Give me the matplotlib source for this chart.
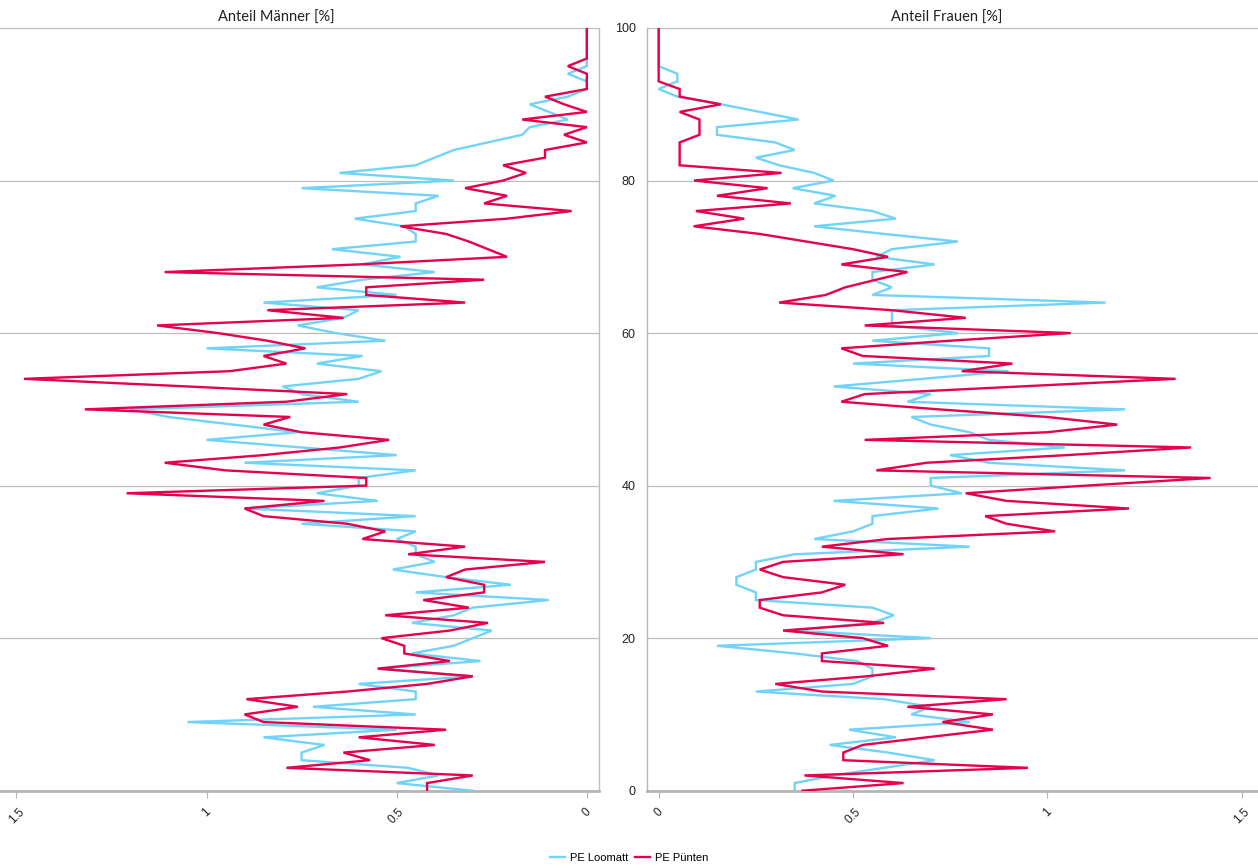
import matplotlib
matplotlib.use("Agg")
import matplotlib.pyplot as plt
import numpy as np

ages = list(range(0, 101))

maenner_loomatt = [0.30, 0.50, 0.39, 0.47, 0.75, 0.75, 0.69, 0.85, 0.50, 1.05,
                   0.45, 0.72, 0.45, 0.45, 0.60, 0.30, 0.55, 0.28, 0.46, 0.35,
                   0.30, 0.25, 0.46, 0.35, 0.30, 0.10, 0.45, 0.20, 0.37, 0.51,
                   0.40, 0.45, 0.45, 0.50, 0.45, 0.75, 0.45, 0.90, 0.55, 0.71,
                   0.60, 0.60, 0.45, 0.90, 0.50, 0.75, 1.00, 0.76, 0.93, 1.10,
                   1.20, 0.60, 0.75, 0.80, 0.60, 0.54, 0.71, 0.59, 1.00, 0.53,
                   0.66, 0.76, 0.64, 0.60, 0.85, 0.50, 0.71, 0.59, 0.40, 0.59,
                   0.49, 0.67, 0.45, 0.45, 0.48, 0.61, 0.45, 0.45, 0.39, 0.75,
                   0.35, 0.65, 0.45, 0.40, 0.35, 0.26, 0.17, 0.15, 0.05, 0.10,
                   0.15, 0.05, 0.00, 0.00, 0.05, 0.00, 0.00, 0.00, 0.00, 0.00,
                   0.00]

maenner_puenten = [0.42, 0.42, 0.30, 0.79, 0.57, 0.64, 0.40, 0.60, 0.37, 0.85,
                   0.90, 0.76, 0.895, 0.63, 0.42, 0.30, 0.55, 0.36, 0.48, 0.48,
                   0.54, 0.36, 0.26, 0.53, 0.31, 0.43, 0.27, 0.27, 0.37, 0.32,
                   0.11, 0.47, 0.32, 0.59, 0.53, 0.63, 0.85, 0.90, 0.69, 1.21,
                   0.58, 0.58, 0.95, 1.11, 0.85, 0.65, 0.52, 0.75, 0.85, 0.78,
                   1.32, 0.79, 0.63, 1.05, 1.48, 0.94, 0.79, 0.85, 0.74, 0.84,
                   0.97, 1.13, 0.64, 0.84, 0.32, 0.58, 0.58, 0.27, 1.11, 0.60,
                   0.21, 0.26, 0.31, 0.37, 0.49, 0.21, 0.04, 0.27, 0.21, 0.32,
                   0.22, 0.16, 0.22, 0.11, 0.11, 0.00, 0.06, 0.00, 0.17, 0.00,
                   0.06, 0.11, 0.00, 0.00, 0.00, 0.05, 0.00, 0.00, 0.00, 0.00,
                   0.00]

frauen_loomatt = [0.35, 0.35, 0.45, 0.58, 0.71, 0.59, 0.44, 0.61, 0.49, 0.80,
                  0.65, 0.70, 0.58, 0.25, 0.50, 0.55, 0.55, 0.51, 0.35, 0.15,
                  0.70, 0.34, 0.55, 0.605, 0.55, 0.25, 0.25, 0.20, 0.20, 0.25,
                  0.25, 0.35, 0.80, 0.40, 0.50, 0.55, 0.55, 0.72, 0.45, 0.78,
                  0.70, 0.70, 1.20, 0.85, 0.75, 1.045, 0.85, 0.80, 0.70, 0.65,
                  1.20, 0.64, 0.70, 0.45, 0.68, 0.90, 0.50, 0.85, 0.85, 0.55,
                  0.77, 0.60, 0.60, 0.60, 1.15, 0.55, 0.60, 0.55, 0.55, 0.71,
                  0.56, 0.60, 0.77, 0.58, 0.40, 0.61, 0.55, 0.40, 0.455, 0.345,
                  0.45, 0.40, 0.31, 0.25, 0.35, 0.30, 0.15, 0.15, 0.36, 0.26,
                  0.16, 0.048, 0.00, 0.048, 0.048, 0.00, 0.00, 0.00, 0.00, 0.00,
                  0.00]

frauen_puenten = [0.37, 0.63, 0.375, 0.95, 0.475, 0.475, 0.525, 0.69, 0.86, 0.73,
                  0.86, 0.64, 0.895, 0.42, 0.30, 0.535, 0.71, 0.42, 0.42, 0.59,
                  0.525, 0.32, 0.58, 0.32, 0.26, 0.26, 0.42, 0.48, 0.32, 0.26,
                  0.32, 0.63, 0.42, 0.59, 1.02, 0.895, 0.84, 1.21, 0.895, 0.79,
                  1.10, 1.42, 0.56, 0.69, 1.05, 1.37, 0.53, 1.00, 1.18, 1.00,
                  0.72, 0.47, 0.53, 0.93, 1.33, 0.78, 0.91, 0.525, 0.47, 0.75,
                  1.06, 0.53, 0.79, 0.60, 0.31, 0.43, 0.48, 0.56, 0.64, 0.47,
                  0.59, 0.50, 0.38, 0.26, 0.09, 0.22, 0.096, 0.34, 0.15, 0.28,
                  0.091, 0.316, 0.054, 0.054, 0.054, 0.054, 0.105, 0.105, 0.105, 0.054,
                  0.16, 0.054, 0.054, 0.00, 0.00, 0.00, 0.00, 0.00, 0.00, 0.00,
                  0.00]

x_ticks = [0, 0.5, 1, 1.5]
x_ticklabels = ["0", "0.5", "1", "1.5"]
y_ticks = [0, 20, 40, 60, 80, 100]
series_names = ["PE Loomatt", "PE Pünten"]
titles = ["Anteil Männer [%]", "Anteil Frauen [%]"]

c_blue = "#72D3F8"
c_red = "#E6004C"
grid_c = "#BDBDBD"
spine_c = "#B5B5B8"

W, H = 1258, 867
fig = plt.figure(figsize=(W / 100, H / 100), dpi=100)
top = 1 - 28 / H
bottom = 1 - 790.7 / H
axL = fig.add_axes([0.0, bottom, 599 / W, top - bottom])
axR = fig.add_axes([647.4 / W, bottom, 1 - 647.4 / W, top - bottom])

for ax, blue, red in [(axL, maenner_loomatt, maenner_puenten),
                      (axR, frauen_loomatt, frauen_puenten)]:
    ax.plot(blue, ages, color=c_blue, lw=1.7, solid_joinstyle="miter", label=series_names[0], zorder=3)
    ax.plot(red, ages, color=c_red, lw=1.7, solid_joinstyle="miter", label=series_names[1], zorder=4)
    ax.set_ylim(0, 100)
    ax.set_yticks(y_ticks)
    ax.yaxis.grid(True, color=grid_c, lw=0.9)
    ax.set_axisbelow(True)
    ax.set_xticks(x_ticks)
    ax.set_xticklabels(x_ticklabels, rotation=45, ha="center", va="top",
                       fontsize=8.5, family="Liberation Sans", color="#222222")
    ax.tick_params(axis="x", length=5, color=spine_c, pad=6)
    ax.spines["bottom"].set_color(spine_c)
    ax.spines["bottom"].set_linewidth(2)
    ax.spines["top"].set_visible(False)
    ax.set_facecolor("white")

fig.text(276 / W, 1 - 18 / H, titles[0], ha="center", va="center",
         fontsize=10.5, family="Lato", color="#222222")
fig.text(947 / W, 1 - 18 / H, titles[1], ha="center", va="center",
         fontsize=10.5, family="Lato", color="#222222")

axL.set_xlim(1.543, -0.032)
axL.spines["left"].set_visible(False)
axL.spines["right"].set_color(grid_c)
axL.spines["right"].set_linewidth(1)
axL.tick_params(axis="y", left=False, labelleft=False)

axR.set_xlim(-0.029, 1.542)
axR.spines["right"].set_visible(False)
axR.spines["left"].set_color(spine_c)
axR.spines["left"].set_linewidth(1)
axR.set_yticklabels([str(v) for v in y_ticks], fontsize=9, family="Liberation Sans", color="#222222")
axR.tick_params(axis="y", length=0, pad=8.5)

handles, labels = axL.get_legend_handles_labels()
fig.legend(handles, labels, loc="center", bbox_to_anchor=(629 / W, 1 - 858 / H), ncol=2,
           frameon=False, handlelength=1.4, handletextpad=0.4, columnspacing=0.6,
           prop={"family": "Liberation Sans", "size": 8})

fig.savefig("out.png", dpi=100, facecolor="white")
